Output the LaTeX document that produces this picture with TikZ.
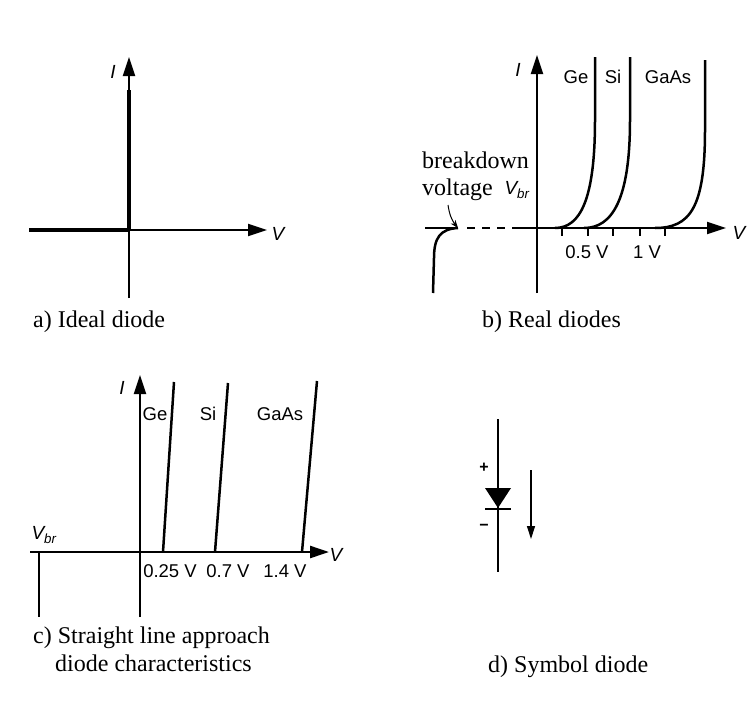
\documentclass[tikz,border=0pt]{standalone}
\usepackage{fontspec}
\setmainfont{Liberation Serif}
\setsansfont{Liberation Sans}
\usetikzlibrary{arrows.meta}
\begin{document}
\begin{tikzpicture}[x=1pt,y=-1pt,
  axisln/.style={line width=1.8pt,-{Triangle[length=19pt,width=12pt]}},
  thk/.style={line width=4pt},
  crv/.style={line width=2.5pt},
  tickln/.style={line width=1.2pt},
  lbl/.style={font=\sffamily\fontsize{18.5}{18.5}\selectfont,inner sep=0pt,anchor=base},
  ilbl/.style={font=\sffamily\itshape\fontsize{19}{19}\selectfont,inner sep=0pt},
  captxt/.style={font=\fontsize{24}{28}\selectfont,inner sep=0pt,anchor=base west},
  sgn/.style={font=\sffamily\bfseries\fontsize{16}{16}\selectfont,inner sep=0pt}]
\useasboundingbox (0,0) rectangle (750,712);

% ---------- a) ideal diode ----------
\coordinate (aO) at (129,230);
\coordinate (aB) at (129,298);
\coordinate (aT) at (129,57);
\coordinate (aL) at (29,230);
\coordinate (aR) at (267,230);
\draw[axisln] (aB) -- (aT);
\draw[axisln] (aL) -- (aR);
\draw[thk] (aO) -- (129,90);
\draw[thk] (aL) -- (aO);
\node[ilbl] (aI) at (113,72) {I};
\node[ilbl] (aV) at (278,234) {V};
\node[captxt] (acap) at (33,327) {a) Ideal diode};

% ---------- b) real diodes ----------
\coordinate (bO) at (537,228);
\draw[axisln] (537,293) -- (537,55);
\draw[axisln] (513,228) -- (726,228);
\draw[line width=1.8pt,dash pattern=on 8pt off 7pt] (467,228) -- (513,228);
\coordinate (bK) at (458,228);
\draw[line width=1.8pt] (425,228) -- (bK);
\draw[crv] (bK) .. controls (440,229) and (434,238) .. (434,258) -- (433,293);
\foreach \x in {562,588,613,640,665} \draw[tickln] (\x,228) -- (\x,236);
\draw[crv] (555,228) .. controls (580,228) and (595,200) .. (595,120) -- (595,57);
\draw[crv] (584,228) .. controls (612,228) and (630,200) .. (630,120) -- (630,57);
\draw[crv] (655,228) .. controls (690,228) and (705,208) .. (705,130) -- (705,60);
\node[lbl] (bGe) at (576,83) {Ge};
\node[lbl] (bSi) at (613,83) {Si};
\node[lbl] (bGa) at (668,83) {GaAs};
\node[lbl] (b05) at (587,258) {0.5 V};
\node[lbl] (b1) at (647,258) {1 V};
\node[ilbl] (bI) at (518,70) {I};
\node[ilbl] (bV) at (739,233) {V};
\node[ilbl] (bVbr) at (517,190) {V\textsubscript{br}};
\node[captxt] (bbd) at (422,168) {breakdown};
\node[captxt] (bvo) at (422,195) {voltage};
\draw[line width=1pt,-{Stealth[length=8pt,width=6pt]}] (448,205) to[bend right=15] (bK);
\node[captxt] (bcap) at (482,327) {b) Real diodes};

% ---------- c) straight line approach ----------
\draw[axisln] (140,617) -- (140,375);
\draw[line width=2.5pt,-{Triangle[length=19pt,width=12pt]}] (30,552) -- (329,552);
\draw[line width=2.5pt] (39,552) -- (39,617);
\draw[crv] (163,552) -- (174,382);
\draw[crv] (215,552) -- (228,383);
\draw[crv] (302,552) -- (317,381);
\node[ilbl] (cI) at (122,388) {I};
\node[ilbl] (cV) at (336,555) {V};
\node[ilbl] (cVbr) at (44,535) {V\textsubscript{br}};
\node[lbl] (cGe) at (155,420) {Ge};
\node[lbl] (cSi) at (208,420) {Si};
\node[lbl] (cGa) at (280,420) {GaAs};
\node[lbl] (c25) at (170,577) {0.25 V};
\node[lbl] (c07) at (228,577) {0.7 V};
\node[lbl] (c14) at (285,577) {1.4 V};
\node[captxt] (ccap1) at (33,643) {c) Straight line approach};
\node[captxt] (ccap2) at (55,671) {diode characteristics};

% ---------- d) symbol ----------
\coordinate (dT) at (498,419);
\coordinate (dB) at (498,572);
\draw[line width=1.5pt] (dT) -- (dB);
\fill (485,488) -- (511,488) -- (498,508) -- cycle;
\draw[line width=2.2pt] (485,509) -- (511,509);
\node[sgn] (dp) at (484,468) {+};
\node[sgn] (dm) at (484,527) {−};
\coordinate (dA1) at (531,470);
\coordinate (dA2) at (531,539);
\draw[line width=1.2pt,-{Triangle[length=13pt,width=8pt]}] (dA1) -- (dA2);
\node[captxt] (dcap) at (488,672) {d) Symbol diode};
\end{tikzpicture}
\end{document}
